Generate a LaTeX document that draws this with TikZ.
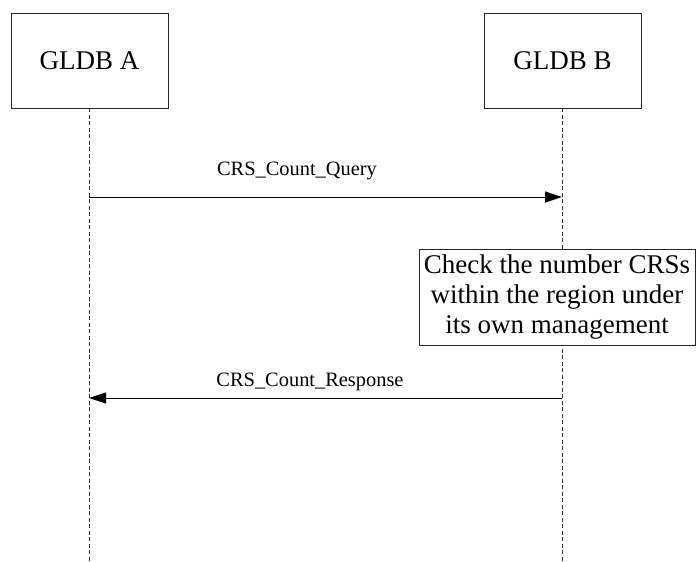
\documentclass[tikz,border=0pt]{standalone}
\usepackage{fontspec}
\setmainfont{Liberation Serif}
\usetikzlibrary{arrows.meta}
\begin{document}
\begin{tikzpicture}[x=1pt,y=-1pt,
  entity/.style={draw=black!85,line width=0.9pt,fill=white,minimum width=157pt,minimum height=95pt,inner sep=0pt,font=\fontsize{27}{30}\selectfont},
  lifeline/.style={draw=black!80,line width=0.8pt,dash pattern=on 4pt off 2.5pt},
  msg/.style={draw=black,line width=0.9pt,-{Triangle[length=17pt,width=11pt]}},
  msglabel/.style={font=\fontsize{20.4}{22}\selectfont,inner sep=0pt},
  notebox/.style={draw=black!85,line width=0.9pt,fill=white,minimum width=276pt,minimum height=96pt,inner sep=0pt,align=center,font=\fontsize{27}{30}\selectfont}]
\useasboundingbox (0,0) rectangle (696,562);
\node[entity] (A) at (89.5,60.5) {GLDB A};
\node[entity] (B) at (562.5,60.5) {GLDB B};
\coordinate (Aend) at (89,562);
\coordinate (Bend) at (562,562);
\draw[lifeline] (A.south -| Aend) -- (Aend);
\draw[lifeline] (B.south -| Bend) -- (Bend);
\node[notebox] (chk) at (557,297) {Check the number CRSs\\within the region under\\its own management};
\coordinate (qa) at (89,197);
\coordinate (qb) at (562,197);
\coordinate (ra) at (562,398);
\coordinate (rb) at (89,398);
\draw[msg] (qa) -- (qb);
\draw[msg] (ra) -- (rb);
\node[msglabel] (ql) at (297,171) {CRS\_Count\_Query};
\node[msglabel] (rl) at (310,382) {CRS\_Count\_Response};
\end{tikzpicture}
\end{document}
